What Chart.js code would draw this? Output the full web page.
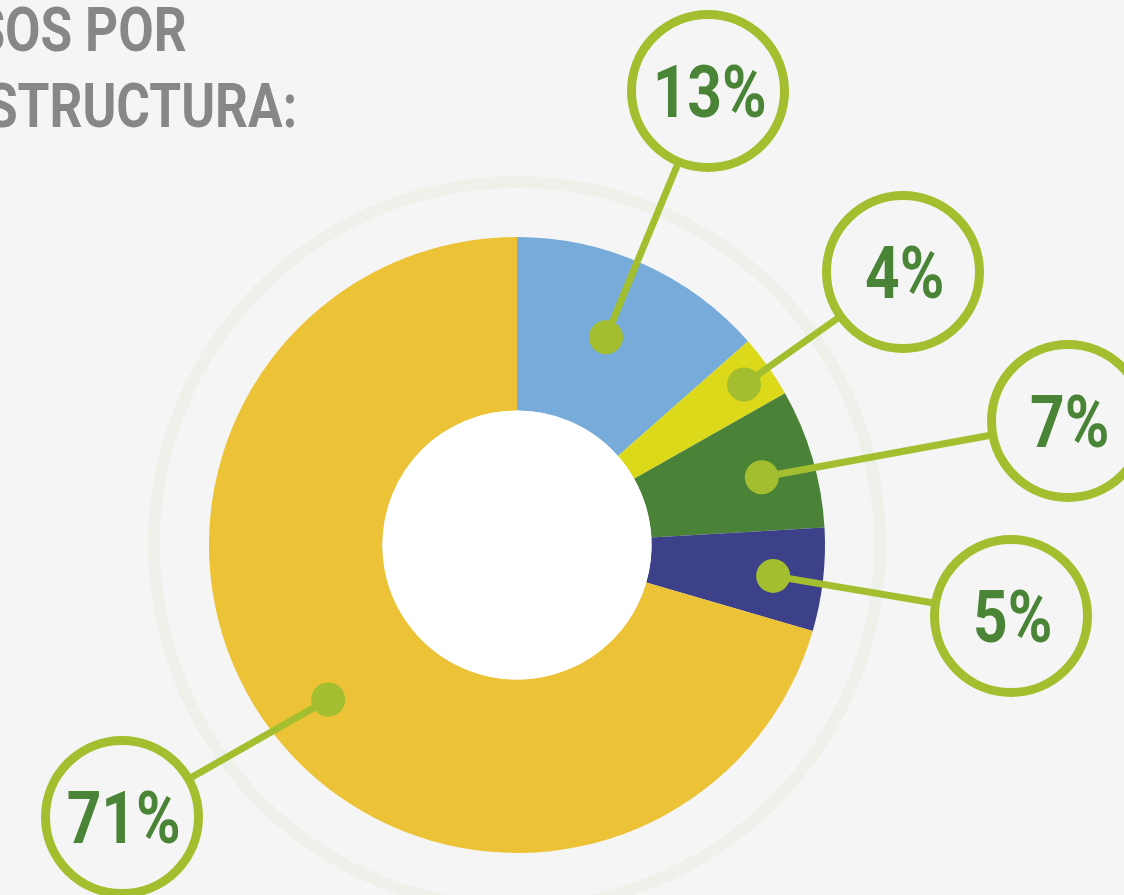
<!DOCTYPE html>
<html>
<head>
<meta charset="utf-8">
<script src="https://cdn.jsdelivr.net/npm/chart.js@4"></script>
<style>
  html, body { margin: 0; padding: 0; background: #f5f5f5; overflow: hidden; }
  #wrap { position: relative; width: 1124px; height: 895px; }
  canvas { position: absolute; left: 0; top: 0; }
  .title {
    position: absolute; font-family: Roboto, sans-serif; font-weight: 700;
    font-size: 62px; line-height: 62px; color: #878787; white-space: nowrap;
    transform: scaleX(0.83); transform-origin: right center; text-align: right;
  }
</style>
</head>
<body>
<div id="wrap">
  <canvas id="c" width="1124" height="895"></canvas>
  <div class="title" style="right:937px; top:-1px;">RECURSOS POR</div>
  <div class="title" style="right:827px; top:75px;">INFRAESTRUCTURA:</div>
</div>
<script>
// ---- data ----
const categories = ['Segmento 1', 'Segmento 2', 'Segmento 3', 'Segmento 4', 'Segmento 5'];
const values = [13.5, 3.3, 7.3, 5.4, 70.5];
const valueLabels = ['13%', '4%', '7%', '5%', '71%'];
const colors = ['#76abda', '#dcd91b', '#4a8337', '#3c4189', '#ecc236'];

// ---- callout styling (annotation layout, relative to chart centre) ----
const dotRadiusFromCenter = [226, 278, 254, 258, 244];
const dotAngleShiftDeg = [-1.1, 0.2, 0.9, 0.4, -2.4];
const bubbleOffsets = [[191, -454], [386, -273], [551, -124], [494, 71], [-395, 272]];

const calloutPlugin = {
  id: 'callouts',
  beforeDatasetsDraw(chart) {
    const arc = chart.getDatasetMeta(0).data[0];
    const ctx = chart.ctx;
    ctx.save();
    ctx.beginPath();
    ctx.arc(arc.x, arc.y, 363, 0, Math.PI * 2);
    ctx.strokeStyle = '#edf1ea';
    ctx.lineWidth = 12;
    ctx.stroke();
    ctx.restore();
  },
  afterDatasetsDraw(chart) {
    const meta = chart.getDatasetMeta(0);
    const ctx = chart.ctx;
    const a0 = meta.data[0];
    const cx = a0.x, cy = a0.y;
    ctx.save();
    // white hole
    ctx.beginPath();
    ctx.arc(cx, cy, a0.innerRadius, 0, Math.PI * 2);
    ctx.fillStyle = '#ffffff';
    ctx.fill();

    const green = '#a3bf2f';
    meta.data.forEach((el, i) => {
      const mid = (el.startAngle + el.endAngle) / 2 + dotAngleShiftDeg[i] * Math.PI / 180;
      const r = dotRadiusFromCenter[i];
      const dx = cx + Math.cos(mid) * r;
      const dy = cy + Math.sin(mid) * r;
      const bx = cx + bubbleOffsets[i][0];
      const by = cy + bubbleOffsets[i][1];
      // leader line
      ctx.beginPath();
      ctx.moveTo(dx, dy);
      ctx.lineTo(bx, by);
      ctx.strokeStyle = green;
      ctx.lineWidth = 7;
      ctx.stroke();
      // dot
      ctx.beginPath();
      ctx.arc(dx, dy, 17, 0, Math.PI * 2);
      ctx.fillStyle = green;
      ctx.fill();
      // bubble
      ctx.beginPath();
      ctx.arc(bx, by, 76.5, 0, Math.PI * 2);
      ctx.fillStyle = '#f5f5f5';
      ctx.fill();
      ctx.lineWidth = 9;
      ctx.strokeStyle = green;
      ctx.stroke();
      // text
      ctx.save();
      ctx.translate(bx, by);
      ctx.scale(0.84, 1);
      ctx.font = 'bold 72px Roboto';
      ctx.fillStyle = '#4a8437';
      ctx.textAlign = 'center';
      ctx.textBaseline = 'alphabetic';
      ctx.fillText(valueLabels[i], 2, 26);
      ctx.restore();
    });
    ctx.restore();
  }
};

new Chart(document.getElementById('c'), {
  type: 'doughnut',
  data: {
    labels: categories,
    datasets: [{
      data: values,
      backgroundColor: colors,
      borderWidth: 0,
      hoverOffset: 0
    }]
  },
  options: {
    responsive: false,
    animation: false,
    cutout: '43.7%',
    layout: { padding: { left: 209, top: 237, right: 299, bottom: 42 } },
    plugins: { legend: { display: false }, tooltip: { enabled: false } },
    events: []
  },
  plugins: [calloutPlugin]
});
</script>
</body>
</html>
